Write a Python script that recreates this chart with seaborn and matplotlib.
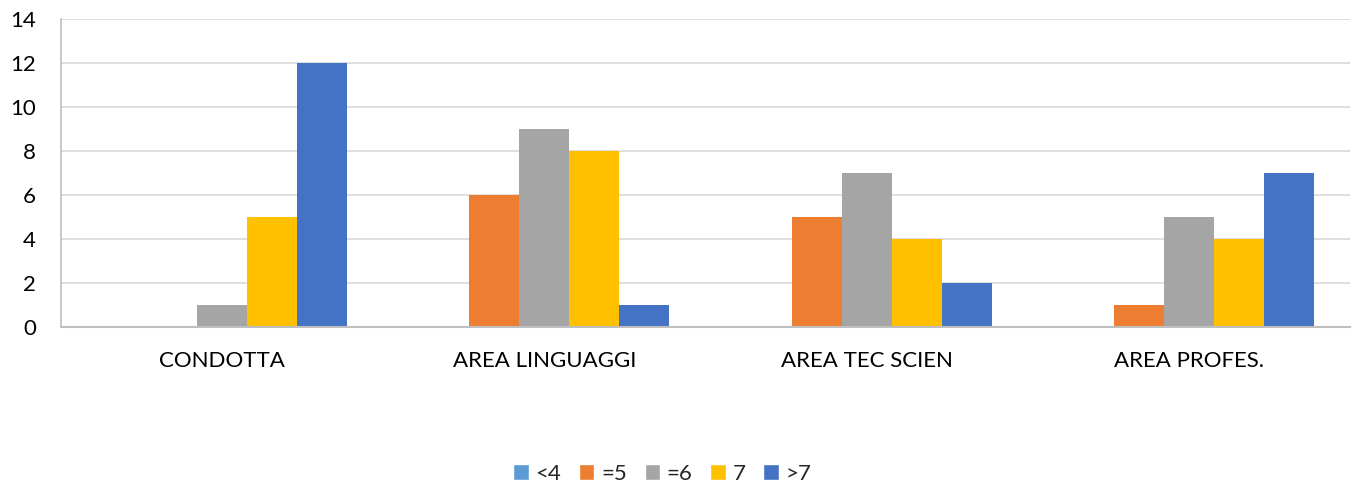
import matplotlib
matplotlib.use("Agg")
import matplotlib.pyplot as plt
import seaborn as sns
import pandas as pd
from matplotlib.patches import Patch

categories = ["CONDOTTA", "AREA LINGUAGGI", "AREA TEC SCIEN", "AREA PROFES."]
series = ["<4", "=5", "=6", "7", ">7"]
values_lt4 = [0, 0, 0, 0]
values_eq5 = [0, 6, 5, 1]
values_eq6 = [1, 9, 7, 5]
values_7 = [5, 8, 4, 4]
values_gt7 = [12, 1, 2, 7]
colors = ["#5B9BD5", "#ED7D31", "#A5A5A5", "#FFC000", "#4472C4"]

all_vals = [values_lt4, values_eq5, values_eq6, values_7, values_gt7]
rows = []
for s, vals in zip(series, all_vals):
    for c, v in zip(categories, vals):
        rows.append({"cat": c, "series": s, "val": v})
df = pd.DataFrame(rows)

sns.set_theme(style="white")
plt.rcParams["font.family"] = ["Lato", "DejaVu Sans"]

fig = plt.figure(figsize=(13.6, 4.9), dpi=100)
ax = fig.add_axes([61/1360, 1-327/490, (1350-61)/1360, (327-19)/490])
sns.barplot(data=df, x="cat", y="val", hue="series", order=categories,
            hue_order=series, palette=colors, width=0.776, gap=0,
            saturation=1, ax=ax, legend=False, linewidth=0, errorbar=None)

ax.set_ylim(0, 14)
ax.set_yticks(range(0, 15, 2))
ax.set_xlim(-0.5, 3.5)
ax.yaxis.grid(True, color="#D9D9D9", linewidth=1.2)
ax.set_axisbelow(True)
ax.set_xlabel("")
ax.set_ylabel("")
for sp in ["top", "right"]:
    ax.spines[sp].set_visible(False)
ax.spines["left"].set_color("#BFBFBF")
ax.spines["bottom"].set_color("#BFBFBF")
ax.spines["left"].set_linewidth(1.2)
ax.spines["bottom"].set_linewidth(1.5)
ax.tick_params(axis="both", length=0, labelsize=16, colors="#000000")
ax.tick_params(axis="x", pad=17)
ax.tick_params(axis="y", pad=18)

handles = [Patch(facecolor=c, label=s) for c, s in zip(colors, series)]
fig.legend(handles=handles, loc="center", bbox_to_anchor=(0.487, 1-474/490),
           ncol=5, frameon=False, fontsize=16, handlelength=0.7, handleheight=0.7,
           handletextpad=0.3, columnspacing=0.8)

fig.savefig("out.png", dpi=100)
